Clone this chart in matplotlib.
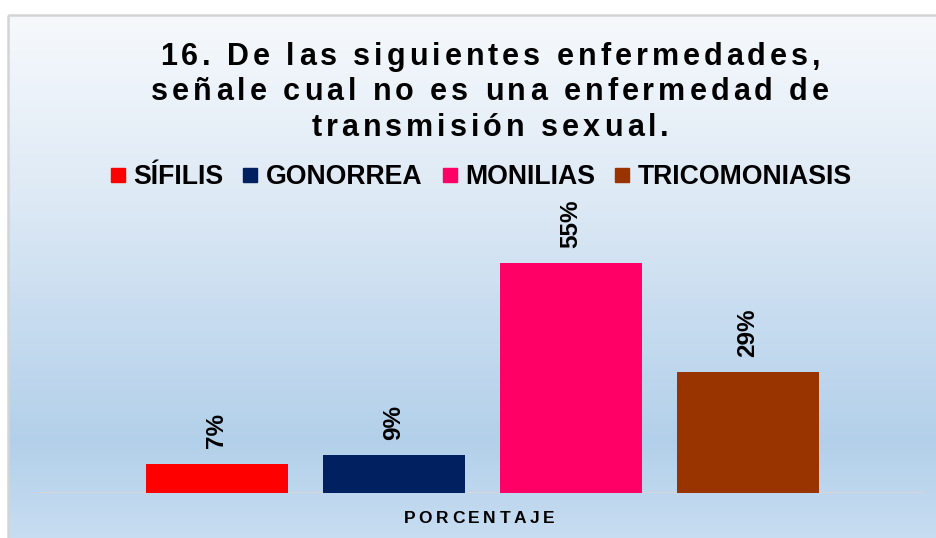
import matplotlib
matplotlib.use('Agg')
import matplotlib.pyplot as plt
import numpy as np
from matplotlib.font_manager import FontProperties
from matplotlib.textpath import TextToPath
from matplotlib.colors import LinearSegmentedColormap
from matplotlib.lines import Line2D
from matplotlib.patches import Rectangle

categorias = ['SÍFILIS', 'GONORREA', 'MONILIAS', 'TRICOMONIASIS']
porcentajes = [7, 9, 55, 29]
colores = ['#ff0000', '#002060', '#ff0066', '#993300']
titulo = ['16. De las siguientes enfermedades,',
          'señale cual no es una enfermedad de',
          'transmisión sexual.']
etiqueta_x = 'PORCENTAJE'

W, H = 937, 538
DPI = 100
FUENTE = 'Liberation Sans'

fig = plt.figure(figsize=(W / DPI, H / DPI), dpi=DPI)

# fondo con degradado, en coordenadas de pixel
fondo = fig.add_axes([0, 0, 1, 1], zorder=-10)
fondo.axis('off')
paradas = [(0.0, '#f6f9fc'), (0.35, '#dde9f5'), (0.55, '#c9ddf0'),
           (0.80, '#b3d0ea'), (1.0, '#c9def2')]
cmap = LinearSegmentedColormap.from_list('fondo', paradas)
grad = np.linspace(0, 1, 256).reshape(-1, 1)
fondo.imshow(grad, cmap=cmap, extent=(8, W + 10, H + 10, 15), aspect='auto')
fondo.add_patch(Rectangle((8, 15), W + 10, H + 10, fill=False,
                          ec='#d4d4d4', lw=1.8))
fondo.set_xlim(0, W)
fondo.set_ylim(H, 0)

ttp = TextToPath()


def texto_espaciado(ax, xc, yb, texto, size, espacio, weight='bold'):
    """Escribe texto con espaciado extra entre letras, centrado en xc"""
    prop = FontProperties(family=FUENTE, weight=weight, size=size)
    ref = ttp.get_text_width_height_descent('|', prop, ismath=False)[0]
    avances = []
    for c in texto:
        w = ttp.get_text_width_height_descent(c + '|', prop, ismath=False)[0]
        avances.append((w - ref) * DPI / 72)
    total = sum(avances) + espacio * (len(texto) - 1)
    x = xc - total / 2
    for c, a in zip(texto, avances):
        ax.text(x, yb, c, fontproperties=prop, ha='left', va='baseline',
                color='black')
        x += a + espacio


# titulo en tres lineas
for i, linea in enumerate(titulo):
    texto_espaciado(fondo, 490, 65 + 35.5 * i, linea, 22, 4.0)

# area de barras
ax = fig.add_axes([40 / W, 45 / H, 885 / W, (493 - 210) / H])
ax.set_facecolor('none')
x = np.arange(len(categorias))
barras = ax.bar(x, porcentajes, width=0.8, color=colores, zorder=2)
ax.set_xlim(-1, 4)
ax.set_ylim(0, 283 / 4.18)
for s in ax.spines.values():
    s.set_visible(False)
ax.set_xticks([])
ax.set_yticks([])
ax.axhline(0, color='#d6d6d6', lw=2.2, zorder=1)

for xi, v in zip(x, porcentajes):
    ax.annotate(f'{v}%', (xi, v), xytext=(0, 11), textcoords='offset points',
                rotation=90, ha='center', va='bottom', fontsize=17.5,
                fontweight='bold', family=FUENTE)

texto_espaciado(fondo, 479, 523, etiqueta_x, 12.5, 3.6)

# leyenda
manijas = [Line2D([], [], marker='s', ls='', color=c, markersize=9.4)
           for c in colores]
fig.legend(manijas, categorias, loc='center', ncol=4,
           bbox_to_anchor=(481 / W, 1 - 177 / H), frameon=False,
           prop=FontProperties(family=FUENTE, weight='bold', size=19.2),
           handlelength=0.55, handletextpad=0.3, columnspacing=0.75,
           borderpad=0, borderaxespad=0)

fig.savefig('out.png', dpi=DPI)
